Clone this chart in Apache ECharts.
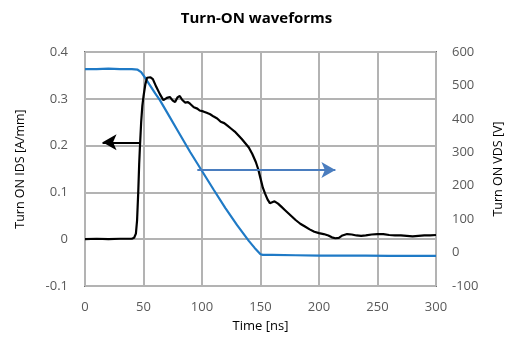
<!DOCTYPE html>
<html>
<head>
<meta charset="utf-8">
<script src="https://cdn.jsdelivr.net/npm/echarts@6/dist/echarts.min.js"></script>
<style>html,body{margin:0;padding:0;background:#fff}#c{width:513px;height:350px}</style>
</head>
<body>
<div id="c"></div>
<script>
const titleText = "Turn-ON waveforms";
const xName = "Time [ns]";
const leftName = "Turn ON IDS [A/mm]";
const rightName = "Turn ON VDS [V]";
const xTicks = [0, 50, 100, 150, 200, 250, 300];
const idsSeries = [[0,0],[10,0.001],[20,0],[30,0.001],[40,0.001],[42,0.003],[43.5,0.012],[44.5,0.04],[45.5,0.1],[46.3,0.16],[47,0.2],[48,0.25],[49,0.285],[50,0.305],[51.5,0.33],[53,0.345],[56,0.346],[58,0.342],[61,0.325],[64,0.31],[67,0.297],[70,0.302],[72.5,0.304],[75,0.296],[77,0.293],[79,0.303],[81,0.306],[83,0.298],[85.5,0.292],[88,0.293],[90,0.289],[93,0.282],[96,0.279],[98,0.275],[101,0.273],[104,0.27],[107,0.267],[110,0.262],[113,0.258],[116,0.251],[119,0.248],[122,0.242],[125,0.236],[128,0.23],[131,0.222],[134,0.214],[137,0.205],[140,0.196],[143,0.182],[146,0.165],[148,0.15],[150,0.13],[152,0.11],[154,0.097],[156,0.085],[158,0.077],[160,0.079],[162,0.081],[165,0.076],[168,0.069],[171,0.062],[174,0.055],[177,0.048],[180,0.041],[184,0.033],[188,0.027],[192,0.021],[196,0.016],[200,0.013],[204,0.011],[208,0.008],[211,0.004],[214,0.002],[217,0.003],[220,0.008],[224,0.011],[228,0.01],[232,0.008],[236,0.007],[240,0.008],[245,0.01],[250,0.011],[255,0.011],[260,0.009],[265,0.008],[270,0.008],[275,0.007],[280,0.006],[285,0.007],[290,0.008],[295,0.008],[300,0.009]];
const vdsSeries = [[0,549],[10,549],[20,550],[30,549],[40,549],[45,547],[48,540],[51,525],[55,503],[60,476],[64,456],[70,420],[80,360],[90,300],[100,244],[110,188],[120,133],[130,82],[140,35],[145,14],[150,-5],[152,-7],[160,-7],[180,-8],[200,-9],[220,-9],[240,-9],[260,-10],[280,-10],[300,-10]];
// annotation arrows: [tStart, tEnd, value]
const idsArrow = [47, 15, 0.207];
const vdsArrow = [96, 214, 247];

const font = '"Open Sans", "Liberation Sans", sans-serif';
const chart = echarts.init(document.getElementById('c'), null, {renderer: 'canvas'});
chart.setOption({
  animation: false,
  backgroundColor: '#fff',
  title: {text: titleText, left: 'center', top: 6, textStyle: {fontFamily: font, fontSize: 15, fontWeight: 'bold', color: '#000'}},
  grid: {left: 85, right: 77, top: 52, bottom: 64, show: true, borderColor: '#000', borderWidth: 1.5, backgroundColor: 'transparent'},
  xAxis: {
    type: 'value', min: 0, max: 300, interval: 50,
    name: xName, nameLocation: 'middle', nameGap: 34,
    nameTextStyle: {fontFamily: font, fontSize: 13, color: '#000'},
    axisLine: {show: false}, axisTick: {show: false},
    axisLabel: {margin: 15, fontFamily: font, fontSize: 13, color: '#595959'},
    splitLine: {show: true, lineStyle: {color: '#b3b3b3', width: 2}}
  },
  yAxis: [{
    type: 'value', min: -0.1, max: 0.4, interval: 0.1, position: 'left',
    name: leftName, nameLocation: 'middle', nameGap: 58,
    nameTextStyle: {fontFamily: font, fontSize: 12.5, color: '#000'},
    axisLine: {show: false}, axisTick: {show: false},
    axisLabel: {margin: 17, fontFamily: font, fontSize: 13, color: '#595959', formatter: v => String(Math.round(v * 10) / 10)},
    splitLine: {show: true, lineStyle: {color: '#b3b3b3', width: 2}}
  }, {
    type: 'value', min: -100, max: 600, interval: 100, position: 'right',
    name: rightName, nameLocation: 'middle', nameGap: 56,
    nameTextStyle: {fontFamily: font, fontSize: 12.5, color: '#000'},
    axisLine: {show: false}, axisTick: {show: false},
    axisLabel: {margin: 16, fontFamily: font, fontSize: 13, color: '#595959'},
    splitLine: {show: false}
  }],
  series: [{
    type: 'line', yAxisIndex: 1, data: vdsSeries, showSymbol: false, symbol: 'none',
    lineStyle: {color: '#1f7ac6', width: 2.2}, z: 3,
    markLine: {silent: true, symbol: ['none', 'arrow'], symbolSize: [12, 14],
      lineStyle: {color: '#4a7dbf', width: 2, type: 'solid'}, label: {show: false},
      data: [[{coord: [vdsArrow[0], vdsArrow[2]]}, {coord: [vdsArrow[1], vdsArrow[2]]}]]}
  }, {
    type: 'line', yAxisIndex: 0, data: idsSeries, showSymbol: false, symbol: 'none',
    lineStyle: {color: '#000', width: 2.2}, z: 4,
    markLine: {silent: true, symbol: ['none', 'arrow'], symbolSize: [12, 14],
      lineStyle: {color: '#000', width: 2, type: 'solid'}, label: {show: false},
      data: [[{coord: [idsArrow[0], idsArrow[2]]}, {coord: [idsArrow[1], idsArrow[2]]}]]}
  }]
});
</script>
</body>
</html>
